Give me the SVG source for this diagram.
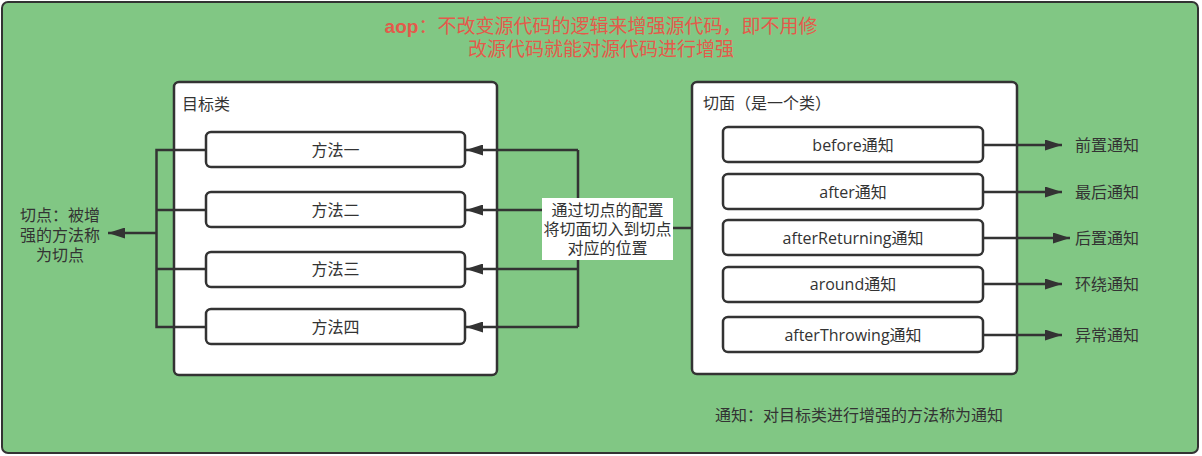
<svg xmlns="http://www.w3.org/2000/svg" width="1202" height="456" viewBox="0 0 1202 456">
  <style>
    text { font-family: "Open Sans", "Noto Sans CJK SC", sans-serif; font-size: 16px; fill: #333333; }
    .ml { font-family: "Liberation Sans", "Noto Sans CJK SC", sans-serif; }
    .title { font-size: 19px; fill: #e45a4b; text-anchor: middle; }
    .b { font-weight: bold; }
    .c { text-anchor: middle; }
    .box { fill: #ffffff; stroke: #333333; stroke-width: 2.5; }
    .item { fill: #ffffff; stroke: #333333; stroke-width: 2.5; }
    .conn { fill: none; stroke: #333333; stroke-width: 2.5; }
  </style>
  <defs>
    <marker id="arrow" markerUnits="userSpaceOnUse" markerWidth="17" markerHeight="11" refX="17" refY="5.5" orient="auto">
      <path d="M0,0 L17,5.5 L0,11 z" fill="#333333"/>
    </marker>
  </defs>

  <g id="background">
    <rect x="2" y="2" width="1196" height="451" rx="6" fill="#81c784" stroke="#333333" stroke-width="2"/>
    <text class="title ml" x="601" y="33"><tspan class="b">aop</tspan>：不改变源代码的逻辑来增强源代码，即不用修<tspan x="601" dy="23">改源代码就能对源代码进行增强</tspan></text>
  </g>

  <g id="target-class">
    <rect class="box" x="174" y="82" width="323" height="293" rx="5"/>
    <text x="182" y="104" dominant-baseline="central">目标类</text>
  </g>
  <g id="method1">
    <rect class="item" x="206" y="132" width="259" height="35" rx="5"/>
    <text class="c" x="335.5" y="150" dominant-baseline="central">方法一</text>
  </g>
  <g id="method2">
    <rect class="item" x="206" y="192" width="259" height="35" rx="5"/>
    <text class="c" x="335.5" y="210" dominant-baseline="central">方法二</text>
  </g>
  <g id="method3">
    <rect class="item" x="206" y="252" width="259" height="35" rx="5"/>
    <text class="c" x="335.5" y="269" dominant-baseline="central">方法三</text>
  </g>
  <g id="method4">
    <rect class="item" x="206" y="309" width="259" height="35" rx="5"/>
    <text class="c" x="335.5" y="327" dominant-baseline="central">方法四</text>
  </g>

  <g id="aspect">
    <rect class="box" x="692" y="82" width="325" height="292" rx="5"/>
    <text x="703" y="103" dominant-baseline="central">切面（是一个类）</text>
  </g>
  <g id="before">
    <rect class="item" x="723" y="127" width="260" height="35" rx="5"/>
    <text class="c" x="853" y="145" dominant-baseline="central">before通知</text>
  </g>
  <g id="after">
    <rect class="item" x="723" y="174" width="260" height="35" rx="5"/>
    <text class="c" x="853" y="192" dominant-baseline="central">after通知</text>
  </g>
  <g id="afterReturning">
    <rect class="item" x="723" y="220" width="260" height="35" rx="5"/>
    <text class="c" x="853" y="238" dominant-baseline="central">afterReturning通知</text>
  </g>
  <g id="around">
    <rect class="item" x="723" y="267" width="260" height="35" rx="5"/>
    <text class="c" x="853" y="284" dominant-baseline="central">around通知</text>
  </g>
  <g id="afterThrowing">
    <rect class="item" x="723" y="317" width="260" height="35" rx="5"/>
    <text class="c" x="853" y="335" dominant-baseline="central">afterThrowing通知</text>
  </g>

  <g id="connectors">
    <path class="conn" d="M206,150 H156.5 V327 H206 M156.5,210 H206 M156.5,269 H206"/>
    <path class="conn" stroke-width="3" d="M156.5,233 H108" marker-end="url(#arrow)"/>
    <path class="conn" d="M692,228 H578 M578,150 V327"/>
    <path class="conn" d="M578,150 H466" marker-end="url(#arrow)"/>
    <path class="conn" d="M578,210 H466" marker-end="url(#arrow)"/>
    <path class="conn" d="M578,269 H466" marker-end="url(#arrow)"/>
    <path class="conn" d="M578,327 H466" marker-end="url(#arrow)"/>
    <path class="conn" d="M983,145 H1062" marker-end="url(#arrow)"/>
    <path class="conn" d="M983,192 H1062" marker-end="url(#arrow)"/>
    <path class="conn" d="M983,238 H1070" marker-end="url(#arrow)"/>
    <path class="conn" d="M983,284 H1062" marker-end="url(#arrow)"/>
    <path class="conn" d="M983,335 H1062" marker-end="url(#arrow)"/>
  </g>

  <g id="weave-label">
    <rect x="542" y="198" width="131" height="62" fill="#ffffff"/>
    <text class="c ml" x="607.5" y="215.5">通过切点的配置<tspan x="607.5" dy="19">将切面切入到切点</tspan><tspan x="607.5" dy="19">对应的位置</tspan></text>
  </g>

  <g id="pointcut-label">
    <text class="c ml" x="60" y="220.5">切点：被增<tspan x="60" dy="20">强的方法称</tspan><tspan x="60" dy="20">为切点</tspan></text>
  </g>

  <g id="advice-labels">
    <text x="1075" y="145" dominant-baseline="central">前置通知</text>
    <text x="1075" y="192" dominant-baseline="central">最后通知</text>
    <text x="1075" y="238" dominant-baseline="central">后置通知</text>
    <text x="1075" y="284" dominant-baseline="central">环绕通知</text>
    <text x="1075" y="335" dominant-baseline="central">异常通知</text>
  </g>

  <g id="advice-note">
    <text x="715" y="415" dominant-baseline="central">通知：对目标类进行增强的方法称为通知</text>
  </g>
</svg>
